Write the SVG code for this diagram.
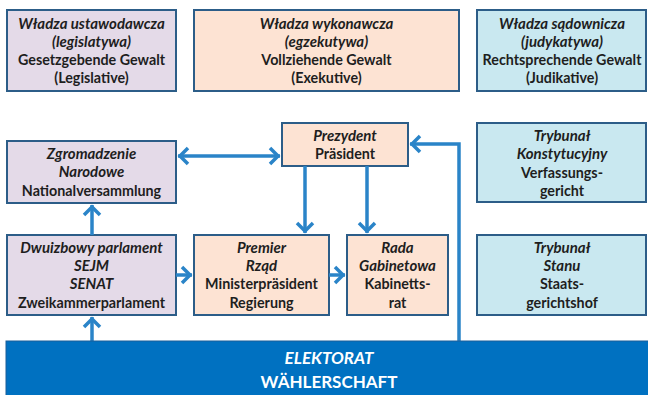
<svg xmlns="http://www.w3.org/2000/svg" width="648" height="395" viewBox="0 0 648 395">
  <style>
    .box { stroke: #2c5d88; stroke-width: 2; }
    .leg { fill: #e4dae8; }
    .exe { fill: #fde3d3; }
    .jud { fill: #c9e8f0; }
    text { font-family: "Lato", "Liberation Sans", sans-serif; font-size: 14.3px; font-weight: bold; fill: #1e1e1e; text-anchor: middle; }
    .it { font-style: italic; font-size: 15px; }
    .conn { fill: none; stroke: #2a84c8; stroke-width: 3.5; }
    .big { font-size: 17px; fill: #ffffff; }
  </style>
  <defs>
    <marker id="head" markerUnits="userSpaceOnUse" markerWidth="20" markerHeight="20" viewBox="-12 -10 16 20" refX="2" refY="0" orient="auto-start-reverse">
      <path d="M-8,-8 L0,0 L-8,8" fill="none" stroke="#2a84c8" stroke-width="3.5"/>
    </marker>
  </defs>

  <!-- three branches of power -->
  <g id="legislative">
    <rect class="box leg" x="7" y="10" width="169" height="81"/>
    <text x="91.5" y="29" class="it">Władza ustawodawcza</text>
    <text x="91.5" y="47" class="it">(legislatywa)</text>
    <text x="91.5" y="65">Gesetzgebende Gewalt</text>
    <text x="91.5" y="83">(Legislative)</text>
  </g>
  <g id="executive">
    <rect class="box exe" x="194" y="10" width="265" height="81"/>
    <text x="326.5" y="29" class="it">Władza wykonawcza</text>
    <text x="326.5" y="47" class="it">(egzekutywa)</text>
    <text x="326.5" y="65">Vollziehende Gewalt</text>
    <text x="326.5" y="83">(Exekutive)</text>
  </g>
  <g id="judiciary">
    <rect class="box jud" x="477" y="10" width="169" height="81"/>
    <text x="562" y="29" class="it">Władza sądownicza</text>
    <text x="562" y="47" class="it">(judykatywa)</text>
    <text x="562" y="65">Rechtsprechende Gewalt</text>
    <text x="562" y="83">(Judikative)</text>
  </g>

  <!-- organs -->
  <g id="zgromadzenie">
    <rect class="box leg" x="7" y="141" width="169" height="62"/>
    <text x="91.5" y="159" class="it">Zgromadzenie</text>
    <text x="91.5" y="177" class="it">Narodowe</text>
    <text x="91.5" y="196">Nationalversammlung</text>
  </g>
  <g id="parlament">
    <rect class="box leg" x="7" y="235" width="169" height="80"/>
    <text x="91.5" y="253" class="it">Dwuizbowy parlament</text>
    <text x="91.5" y="271" class="it">SEJM</text>
    <text x="91.5" y="289" class="it">SENAT</text>
    <text x="91.5" y="308">Zweikammerparlament</text>
  </g>
  <g id="prezydent">
    <rect class="box exe" x="282" y="123" width="126" height="43"/>
    <text x="345" y="141" class="it">Prezydent</text>
    <text x="345" y="159">Präsident</text>
  </g>
  <g id="premier">
    <rect class="box exe" x="194" y="235" width="135" height="80"/>
    <text x="261.5" y="253" class="it">Premier</text>
    <text x="261.5" y="271" class="it">Rząd</text>
    <text x="261.5" y="289">Ministerpräsident</text>
    <text x="261.5" y="308">Regierung</text>
  </g>
  <g id="rada">
    <rect class="box exe" x="347" y="235" width="101" height="80"/>
    <text x="397.5" y="253" class="it">Rada</text>
    <text x="397.5" y="271" class="it">Gabinetowa</text>
    <text x="397.5" y="289">Kabinetts-</text>
    <text x="397.5" y="308">rat</text>
  </g>
  <g id="trybunal-konstytucyjny">
    <rect class="box jud" x="477" y="123" width="169" height="79"/>
    <text x="562" y="141" class="it">Trybunał</text>
    <text x="562" y="159" class="it">Konstytucyjny</text>
    <text x="562" y="178">Verfassungs-</text>
    <text x="562" y="196">gericht</text>
  </g>
  <g id="trybunal-stanu">
    <rect class="box jud" x="477" y="235" width="169" height="80"/>
    <text x="562" y="253" class="it">Trybunał</text>
    <text x="562" y="271" class="it">Stanu</text>
    <text x="562" y="289">Staats-</text>
    <text x="562" y="308">gerichtshof</text>
  </g>

  <!-- connectors -->
  <g id="connectors">
    <line class="conn" x1="178" y1="156" x2="280" y2="156" marker-start="url(#head)" marker-end="url(#head)"/>
    <line class="conn" x1="92" y1="235" x2="92" y2="205" marker-end="url(#head)"/>
    <line class="conn" x1="92" y1="341" x2="92" y2="317" marker-end="url(#head)"/>
    <line class="conn" x1="176" y1="275" x2="192" y2="275" marker-end="url(#head)"/>
    <line class="conn" x1="329" y1="275" x2="345" y2="275" marker-end="url(#head)"/>
    <line class="conn" x1="305" y1="166" x2="305" y2="233" marker-end="url(#head)"/>
    <line class="conn" x1="367" y1="166" x2="367" y2="233" marker-end="url(#head)"/>
    <path class="conn" d="M459,341 V144 H410" marker-end="url(#head)"/>
  </g>

  <!-- electorate -->
  <g id="elektorat">
    <rect x="6" y="341" width="650" height="60" fill="#0071c1" stroke="#1b5f99" stroke-width="1"/>
    <text x="329" y="364" class="big it">ELEKTORAT</text>
    <text x="329" y="388" class="big">WÄHLERSCHAFT</text>
  </g>
</svg>
